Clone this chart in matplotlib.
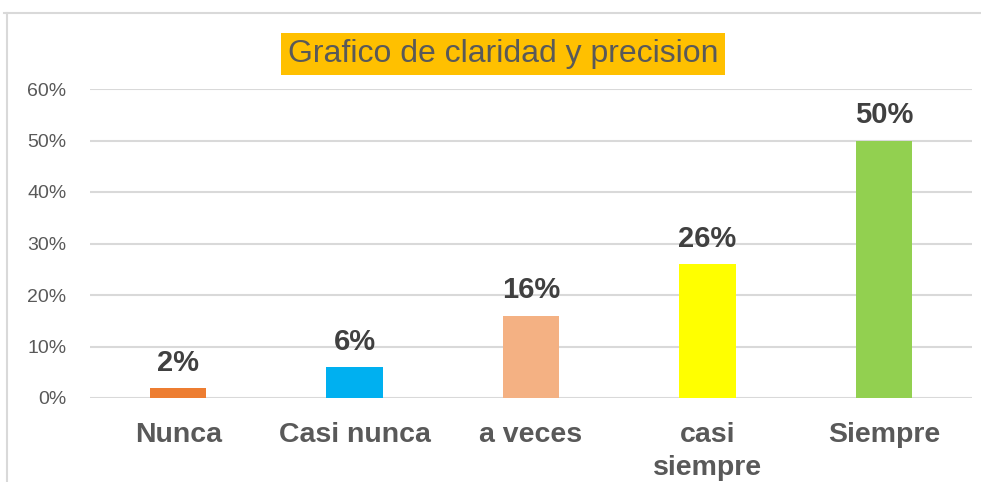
import matplotlib
matplotlib.use("Agg")
import matplotlib.pyplot as plt
from matplotlib.lines import Line2D
from matplotlib.ticker import PercentFormatter

categories = ["Nunca", "Casi nunca", "a veces", "casi\nsiempre", "Siempre"]
values = [0.02, 0.06, 0.16, 0.26, 0.50]
labels = ["2%", "6%", "16%", "26%", "50%"]
colors = ["#ED7D31", "#00B0F0", "#F4B183", "#FFFF00", "#92D050"]
title = "Grafico de claridad y precision"

plt.rcParams["font.family"] = ["Liberation Sans", "DejaVu Sans"]

fig = plt.figure(figsize=(9.81, 4.82), dpi=100)
ax = fig.add_axes([90 / 981, 84 / 482, 882 / 981, 309 / 482])

x = range(len(categories))
ax.bar(x, values, width=0.32, color=colors, zorder=3)
for i, (v, lab) in enumerate(zip(values, labels)):
    ax.annotate(lab, (i, v), xytext=(0, 8), textcoords="offset points",
                ha="center", va="bottom", fontsize=21, fontweight="bold",
                color="#404040")

ax.set_xlim(-0.5, len(categories) - 0.5)
ax.set_ylim(0, 0.6)
ax.set_yticks([0, 0.1, 0.2, 0.3, 0.4, 0.5, 0.6])
ax.yaxis.set_major_formatter(PercentFormatter(1.0, decimals=0))
ax.set_xticks(list(x))
ax.set_xticklabels(categories, fontsize=20.5, fontweight="bold", color="#595959",
                   linespacing=1.35)
ax.tick_params(axis="x", length=0, pad=17)
ax.tick_params(axis="y", length=0, pad=17, labelsize=14, labelcolor="#595959")
ax.grid(axis="y", color="#d9d9d9", linewidth=1.5, zorder=0)
for s in ax.spines.values():
    s.set_visible(False)

# chart frame (top and left edge visible)
fig.add_artist(Line2D([4 / 981, 1.0], [469 / 482, 469 / 482],
                      transform=fig.transFigure, color="#d9d9d9", linewidth=1.5))
fig.add_artist(Line2D([7 / 981, 7 / 981], [0, 469 / 482],
                      transform=fig.transFigure, color="#d9d9d9", linewidth=1.5))

fig.text(503 / 981, 428 / 482, title, ha="center", va="center", fontsize=23,
         color="#595959",
         bbox=dict(boxstyle="square,pad=0.2", facecolor="#FFC000",
                   edgecolor="none"))

fig.savefig("out.png", dpi=100)
